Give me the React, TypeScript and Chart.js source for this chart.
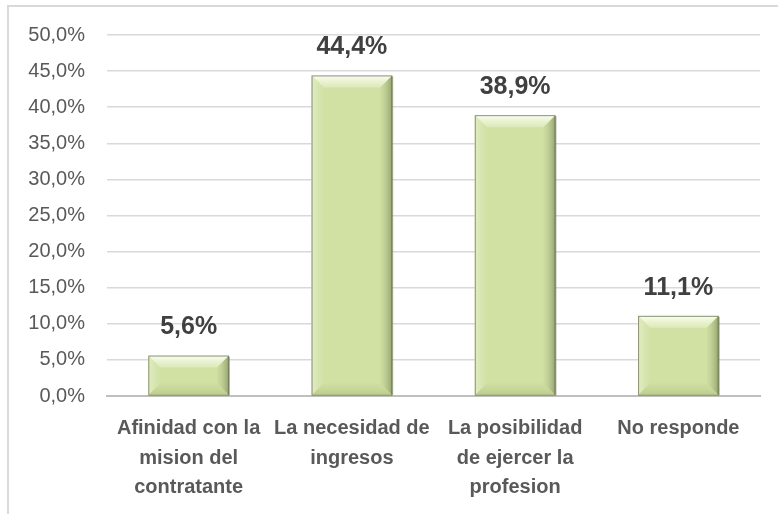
import React, { useEffect, useRef } from "react";
import { Chart, registerables } from "chart.js";

Chart.register(...registerables);

const categories: string[][] = [
  ["Afinidad con la", "mision del", "contratante"],
  ["La necesidad de", "ingresos"],
  ["La posibilidad", "de ejercer la", "profesion"],
  ["No responde"],
];
const values: number[] = [5.6, 44.4, 38.9, 11.1];
const yTickMin = 0;
const yTickMax = 50;
const yTickStep = 5;

const FONT = "'Liberation Sans', Arial, sans-serif";
const fmt = (v: number) => v.toFixed(1).replace(".", ",") + "%";

const bevelPlugin = {
  id: "bevel",
  afterDatasetsDraw(chart: any) {
    const ctx = chart.ctx;
    const meta = chart.getDatasetMeta(0);
    meta.data.forEach((bar: any) => {
      const { x, y, base, width } = bar.getProps(["x", "y", "base", "width"], true);
      const l = x - width / 2;
      const r = x + width / 2;
      const t = y;
      const b = base;
      const h = b - t;
      const bv = Math.min(12, h / 2.5);
      ctx.save();
      // top bevel
      let g = ctx.createLinearGradient(0, t, 0, t + bv);
      g.addColorStop(0, "rgba(252,254,244,1)");
      g.addColorStop(1, "rgba(232,242,206,0.5)");
      ctx.fillStyle = g;
      ctx.beginPath();
      ctx.moveTo(l, t);
      ctx.lineTo(r, t);
      ctx.lineTo(r - bv, t + bv);
      ctx.lineTo(l + bv, t + bv);
      ctx.closePath();
      ctx.fill();
      // left bevel
      g = ctx.createLinearGradient(l, 0, l + bv, 0);
      g.addColorStop(0, "rgba(228,238,200,0.9)");
      g.addColorStop(1, "rgba(215,229,178,0.2)");
      ctx.fillStyle = g;
      ctx.beginPath();
      ctx.moveTo(l, t);
      ctx.lineTo(l + bv, t + bv);
      ctx.lineTo(l + bv, b - bv);
      ctx.lineTo(l, b);
      ctx.closePath();
      ctx.fill();
      // right bevel
      g = ctx.createLinearGradient(r - bv, 0, r, 0);
      g.addColorStop(0, "rgba(190,205,150,0.2)");
      g.addColorStop(1, "rgba(145,160,105,0.95)");
      ctx.fillStyle = g;
      ctx.beginPath();
      ctx.moveTo(r, t);
      ctx.lineTo(r, b);
      ctx.lineTo(r - bv, b - bv);
      ctx.lineTo(r - bv, t + bv);
      ctx.closePath();
      ctx.fill();
      // bottom bevel
      g = ctx.createLinearGradient(0, b - bv, 0, b);
      g.addColorStop(0, "rgba(195,212,150,0.2)");
      g.addColorStop(1, "rgba(180,198,135,0.8)");
      ctx.fillStyle = g;
      ctx.beginPath();
      ctx.moveTo(l, b);
      ctx.lineTo(l + bv, b - bv);
      ctx.lineTo(r - bv, b - bv);
      ctx.lineTo(r, b);
      ctx.closePath();
      ctx.fill();
      // outline
      ctx.strokeStyle = "rgba(130,140,105,0.9)";
      ctx.lineWidth = 1;
      ctx.strokeRect(l + 0.5, t + 0.5, width - 1, h - 0.5);
      ctx.fillStyle = "rgba(110,120,90,0.55)";
      ctx.fillRect(r - 1, t + 1, 2, h - 1);
      ctx.restore();
    });
    // data labels
    ctx.save();
    ctx.font = `bold 25px ${FONT}`;
    ctx.fillStyle = "#404040";
    ctx.textAlign = "center";
    ctx.textBaseline = "middle";
    meta.data.forEach((bar: any, i: number) => {
      const { x, y } = bar.getProps(["x", "y"], true);
      ctx.fillText(fmt(values[i]), x, y - 28);
    });
    ctx.restore();
  },
};

export default function App() {
  const ref = useRef<HTMLCanvasElement>(null);
  useEffect(() => {
    if (!ref.current) return;
    const chart = new Chart(ref.current, {
      type: "bar",
      data: {
        labels: categories,
        datasets: [
          {
            data: values,
            backgroundColor: "#d1e1a4",
            borderWidth: 0,
            categoryPercentage: 1,
            barPercentage: 0.494,
          },
        ],
      },
      options: {
        animation: false,
        responsive: false,
        layout: { padding: { left: 0, right: 18, top: 35, bottom: 0 } },
        plugins: { legend: { display: false }, tooltip: { enabled: false } },
        scales: {
          x: {
            grid: { display: false, drawTicks: false },
            border: { display: true, color: "#bfbfbf", width: 2 },
            ticks: {
              color: "#595959",
              padding: 18,
              maxRotation: 0,
              autoSkip: false,
              font: { family: FONT, size: 20, weight: "bold", lineHeight: 1.475 },
            },
            afterFit: (s: any) => {
              s.height = 118;
            },
          },
          y: {
            min: yTickMin,
            max: yTickMax,
            grid: { color: "#d9d9d9", drawTicks: false, lineWidth: 1.5 },
            border: { display: false },
            ticks: {
              stepSize: yTickStep,
              color: "#595959",
              padding: 22,
              font: { family: FONT, size: 20 },
              callback: (v: any) => fmt(Number(v)),
            },
            afterFit: (s: any) => {
              s.width = 107;
            },
          },
        },
      },
      plugins: [bevelPlugin],
    });
    return () => chart.destroy();
  }, []);
  return (
    <div style={{ position: "fixed", left: 0, top: 0, width: 778, height: 514, overflow: "hidden", background: "#fff" }}>
      <div
        style={{
          position: "absolute",
          left: 7,
          top: 5,
          width: 820,
          height: 560,
          border: "2px solid #d9d9d9",
          boxSizing: "border-box",
        }}
      />
      <canvas ref={ref} width={778} height={514} style={{ position: "absolute", left: 0, top: 0 }} />
    </div>
  );
}
